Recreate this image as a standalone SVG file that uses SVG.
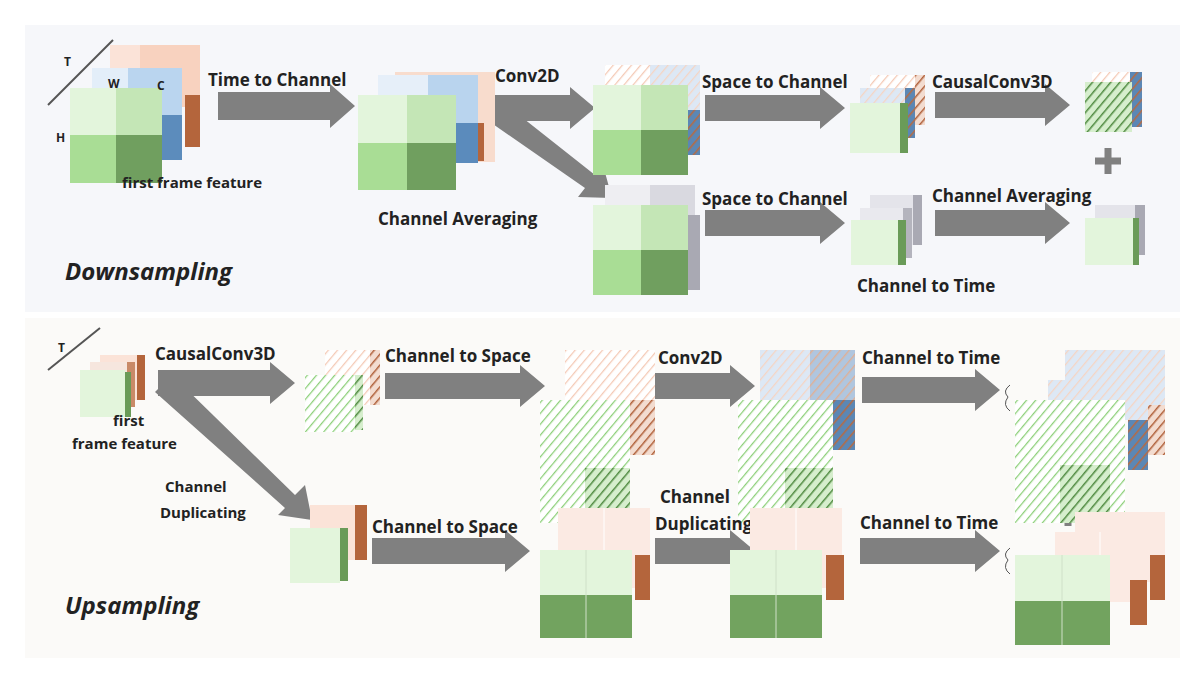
<svg xmlns="http://www.w3.org/2000/svg" width="1200" height="679" viewBox="0 0 1200 679">
<defs>
<style>
text{font-family:"Open Sans","Liberation Sans",sans-serif;font-weight:bold;font-size:17px;fill:#222}
.big{font-size:24px;font-style:italic}
.sm{font-size:12px}
.ar{fill:#808080}
</style>
<pattern id="hg" width="7" height="7" patternUnits="userSpaceOnUse" patternTransform="rotate(40)"><rect width="7" height="7" fill="#fff"/><line x1="0" y1="0" x2="0" y2="7" stroke="#8ccf78" stroke-width="2.5"/></pattern>
<pattern id="hgd" width="7" height="7" patternUnits="userSpaceOnUse" patternTransform="rotate(40)"><rect width="7" height="7" fill="#d6eecd"/><line x1="0" y1="0" x2="0" y2="7" stroke="#4f8a40" stroke-width="3"/></pattern>
<pattern id="ho" width="7" height="7" patternUnits="userSpaceOnUse" patternTransform="rotate(40)"><rect width="7" height="7" fill="#fff"/><line x1="0" y1="0" x2="0" y2="7" stroke="#f4c9b5" stroke-width="2.5"/></pattern>
<pattern id="hod" width="7" height="7" patternUnits="userSpaceOnUse" patternTransform="rotate(40)"><rect width="7" height="7" fill="#f3dcd0"/><line x1="0" y1="0" x2="0" y2="7" stroke="#b0603a" stroke-width="3"/></pattern>
<pattern id="hb" width="7" height="7" patternUnits="userSpaceOnUse" patternTransform="rotate(40)"><rect width="7" height="7" fill="#dde8f5"/><line x1="0" y1="0" x2="0" y2="7" stroke="#f6d4c2" stroke-width="2.5"/></pattern>
<pattern id="hbd" width="7" height="7" patternUnits="userSpaceOnUse" patternTransform="rotate(40)"><rect width="7" height="7" fill="#5b87b5"/><line x1="0" y1="0" x2="0" y2="7" stroke="#b86a40" stroke-width="3"/></pattern>
</defs>
<rect width="1200" height="679" fill="#fff"/>
<rect x="25" y="25" width="1155" height="287" fill="#f6f7fa"/>
<rect x="25" y="318" width="1155" height="340" fill="#fbfaf8"/>

<g id="connectors">
<polygon class="ar" points="218,92 330,92 330,84 355,106 330,128 330,120 218,120"/>
<polygon class="ar" points="495,95 570,95 570,87 595,108 570,129 570,121 495,121"/>
<polygon class="ar" points="490,122 505,104 595,175 603,165 612,198 578,197 585,188"/>
<polygon class="ar" points="705,95 820,95 820,87 845,108 820,129 820,121 705,121"/>
<polygon class="ar" points="935,92 1045,92 1045,84 1070,105 1045,126 1045,118 935,118"/>
<polygon class="ar" points="705,210 820,210 820,202 845,223 820,244 820,236 705,236"/>
<polygon class="ar" points="935,210 1045,210 1045,202 1070,223 1045,244 1045,236 935,236"/>
<polygon class="ar" points="158,370 270,370 270,362 295,383 270,404 270,396 158,396"/>
<polygon class="ar" points="155,392 172,375 295,495 305,485 312,520 278,515 285,508"/>
<polygon class="ar" points="385,373 520,373 520,365 545,386 520,407 520,399 385,399"/>
<polygon class="ar" points="655,373 730,373 730,365 755,386 730,407 730,399 655,399"/>
<polygon class="ar" points="862,377 975,377 975,369 1000,390 975,411 975,403 862,403"/>
<polygon class="ar" points="372,538 505,538 505,530 530,551 505,572 505,564 372,564"/>
<polygon class="ar" points="655,538 730,538 730,530 755,551 730,572 730,564 655,564"/>
<polygon class="ar" points="860,538 975,538 975,530 1000,551 975,572 975,564 860,564"/>
<line x1="48" y1="105" x2="113" y2="40" stroke="#555" stroke-width="2"/>
<line x1="48" y1="370" x2="100" y2="328" stroke="#555" stroke-width="2"/>
<path d="M1108,148 v26 M1095,161 h26" stroke="#808080" stroke-width="7"/>
<path d="M1068,498 v28 M1054,512 h28" stroke="#808080" stroke-width="7"/>
</g>

<g id="n1">
<rect x="110" y="45" width="90" height="62" fill="#fbe3d8"/><rect x="140" y="45" width="60" height="62" fill="#f8d2bf"/>
<rect x="185" y="95" width="15" height="52" fill="#b4653c"/>
<rect x="92" y="68" width="52" height="62" fill="#e3eef9"/><rect x="128" y="68" width="54" height="62" fill="#bad5ef"/>
<rect x="160" y="115" width="22" height="45" fill="#5c8cbc"/>
<rect x="70" y="88" width="46" height="47" fill="#e3f5dc"/><rect x="116" y="88" width="46" height="47" fill="#c4e6b6"/>
<rect x="70" y="135" width="46" height="48" fill="#a9dd95"/><rect x="116" y="135" width="46" height="48" fill="#709f5f"/>
<text class="sm" x="64" y="66">T</text><text class="sm" x="108" y="88">W</text><text class="sm" x="157" y="90">C</text><text class="sm" x="56" y="142">H</text>
<text x="122" y="188" style="font-size:15px">first frame feature</text>
</g>
<text x="208" y="86">Time to Channel</text>

<g id="n2">
<rect x="395" y="72" width="100" height="90" fill="#f8dccd"/>
<rect x="378" y="75" width="100" height="62" fill="#e6eff9"/><rect x="428" y="75" width="50" height="62" fill="#b9d4ee"/>
<rect x="456" y="123" width="22" height="40" fill="#5b8bbc"/><rect x="478" y="123" width="6" height="38" fill="#b4653c"/>
<rect x="358" y="95" width="49" height="48" fill="#e3f5dc"/><rect x="407" y="95" width="49" height="48" fill="#c4e6b6"/>
<rect x="358" y="143" width="49" height="47" fill="#a9dd95"/><rect x="407" y="143" width="49" height="47" fill="#709f5f"/>
<text x="378" y="225">Channel Averaging</text>
</g>
<text x="495" y="82">Conv2D</text>

<g id="n3">
<rect x="605" y="65" width="95" height="90" fill="url(#ho)"/><rect x="650" y="65" width="50" height="90" fill="url(#hb)"/>
<rect x="688" y="110" width="12" height="45" fill="url(#hbd)"/>
<rect x="593" y="85" width="48" height="45" fill="#e3f5dc"/><rect x="641" y="85" width="47" height="45" fill="#c4e6b6"/>
<rect x="593" y="130" width="48" height="45" fill="#a9dd95"/><rect x="641" y="130" width="47" height="45" fill="#709f5f"/>
</g>
<text x="702" y="88">Space to Channel</text>

<g id="n4">
<rect x="870" y="75" width="55" height="50" fill="url(#ho)"/><rect x="915" y="75" width="10" height="50" fill="url(#hod)"/>
<rect x="860" y="88" width="55" height="50" fill="url(#hb)"/><rect x="905" y="88" width="10" height="50" fill="url(#hbd)"/>
<rect x="850" y="103" width="50" height="50" fill="#e3f5dc"/><rect x="900" y="103" width="8" height="50" fill="#6a9b58"/>
</g>
<text x="932" y="88">CausalConv3D</text>

<g id="n5">
<rect x="1092" y="72" width="50" height="12" fill="url(#ho)"/>
<rect x="1130" y="72" width="12" height="55" fill="url(#hbd)"/>
<rect x="1085" y="82" width="47" height="50" fill="url(#hgd)"/>
</g>

<g id="n6">
<rect x="605" y="185" width="90" height="90" fill="#eeeef2"/><rect x="650" y="185" width="45" height="60" fill="#d9d9e0"/>
<rect x="688" y="215" width="12" height="75" fill="#a9a9b3"/>
<rect x="593" y="205" width="48" height="45" fill="#e3f5dc"/><rect x="641" y="205" width="47" height="45" fill="#c4e6b6"/>
<rect x="593" y="250" width="48" height="45" fill="#a9dd95"/><rect x="641" y="250" width="47" height="45" fill="#709f5f"/>
</g>
<text x="702" y="205">Space to Channel</text>

<g id="n7">
<rect x="870" y="195" width="50" height="50" fill="#e4e4ea"/><rect x="913" y="195" width="9" height="50" fill="#a9a9b3"/>
<rect x="860" y="208" width="50" height="50" fill="#e9e9ee"/><rect x="903" y="208" width="9" height="50" fill="#b4b4bd"/>
<rect x="851" y="220" width="47" height="45" fill="#e3f5dc"/><rect x="898" y="220" width="8" height="45" fill="#6a9b58"/>
<text x="857" y="292">Channel to Time</text>
</g>
<text x="932" y="202">Channel Averaging</text>

<g id="n8">
<rect x="1095" y="205" width="50" height="50" fill="#e4e4ea"/><rect x="1135" y="205" width="10" height="50" fill="#a9a9b3"/>
<rect x="1085" y="218" width="48" height="47" fill="#e3f5dc"/><rect x="1133" y="218" width="6" height="47" fill="#6a9b58"/>
</g>
<text class="big" x="65" y="280">Downsampling</text>

<g id="n9">
<rect x="100" y="355" width="45" height="45" fill="#fbe3d8"/><rect x="137" y="355" width="8" height="45" fill="#b4653c"/>
<rect x="90" y="362" width="45" height="45" fill="#f6e6de"/><rect x="127" y="362" width="8" height="45" fill="#c98a68"/>
<rect x="80" y="370" width="45" height="47" fill="#e3f5dc"/><rect x="125" y="372" width="6" height="45" fill="#6a9b58"/>
<text class="sm" x="58" y="352">T</text>
<text x="113" y="426" style="font-size:15px">first</text>
<text x="72" y="449" style="font-size:15px">frame feature</text>
</g>
<text x="155" y="360">CausalConv3D</text>
<text x="165" y="492" style="font-size:15px">Channel</text>
<text x="160" y="518" style="font-size:15px">Duplicating</text>

<g id="n10">
<rect x="325" y="350" width="55" height="55" fill="url(#ho)"/><rect x="370" y="350" width="10" height="55" fill="url(#hod)"/>
<rect x="305" y="375" width="50" height="57" fill="url(#hg)"/><rect x="355" y="375" width="8" height="55" fill="url(#hgd)"/>
</g>
<text x="385" y="362">Channel to Space</text>

<g id="n11">
<rect x="565" y="350" width="90" height="75" fill="url(#ho)"/>
<rect x="628" y="400" width="27" height="55" fill="url(#hod)"/>
<rect x="540" y="400" width="90" height="68" fill="url(#hg)"/>
<rect x="540" y="468" width="90" height="55" fill="url(#hg)"/><rect x="585" y="468" width="45" height="55" fill="url(#hgd)"/>
</g>
<text x="658" y="364">Conv2D</text>

<g id="n12">
<rect x="760" y="350" width="95" height="60" fill="url(#hb)"/><rect x="810" y="350" width="45" height="60" fill="url(#hbd)" opacity="0.35"/>
<rect x="833" y="400" width="22" height="50" fill="url(#hbd)"/>
<rect x="738" y="400" width="95" height="68" fill="url(#hg)"/>
<rect x="738" y="468" width="95" height="55" fill="url(#hg)"/><rect x="785" y="468" width="48" height="55" fill="url(#hgd)"/>
</g>
<text x="862" y="364">Channel to Time</text>
<path d="M1010,385 q-8,6 -2,12 q-6,8 2,14" fill="none" stroke="#555"/>

<g id="n13">
<rect x="1065" y="350" width="100" height="55" fill="url(#hb)"/>
<rect x="1145" y="405" width="20" height="50" fill="url(#hod)"/>
<rect x="1048" y="380" width="100" height="40" fill="url(#hb)"/>
<rect x="1128" y="420" width="20" height="50" fill="url(#hbd)"/>
<rect x="1015" y="400" width="110" height="65" fill="url(#hg)"/>
<rect x="1015" y="465" width="110" height="58" fill="url(#hg)"/><rect x="1060" y="465" width="50" height="58" fill="url(#hgd)"/>
</g>

<g id="n14">
<rect x="310" y="505" width="55" height="55" fill="#fbe3d8"/><rect x="355" y="505" width="12" height="55" fill="#b4653c"/>
<rect x="290" y="528" width="50" height="55" fill="#e3f5dc"/><rect x="340" y="528" width="8" height="53" fill="#6a9b58"/>
</g>
<text x="372" y="533">Channel to Space</text>

<g id="n15">
<rect x="558" y="508" width="92" height="80" fill="#fbeae3"/><line x1="604" y1="508" x2="604" y2="588" stroke="#fff"/>
<rect x="635" y="555" width="15" height="45" fill="#b4653c"/>
<rect x="540" y="550" width="92" height="45" fill="#e3f5dc"/>
<rect x="540" y="595" width="92" height="43" fill="#72a35f"/>
<line x1="586" y1="550" x2="586" y2="638" stroke="#cfe0c8"/>
</g>
<text x="660" y="503">Channel</text>
<text x="655" y="530">Duplicating</text>

<g id="n16">
<rect x="750" y="508" width="92" height="80" fill="#fbeae3"/><line x1="796" y1="508" x2="796" y2="588" stroke="#fff"/>
<rect x="826" y="555" width="18" height="45" fill="#b4653c"/>
<rect x="730" y="550" width="92" height="45" fill="#e3f5dc"/>
<rect x="730" y="595" width="92" height="43" fill="#72a35f"/>
<line x1="776" y1="550" x2="776" y2="638" stroke="#cfe0c8"/>
</g>
<text x="860" y="529">Channel to Time</text>
<path d="M1010,548 q-8,6 -2,12 q-6,8 2,14" fill="none" stroke="#555"/>

<g id="n17">
<rect x="1075" y="512" width="90" height="70" fill="#fbeae3"/>
<rect x="1150" y="555" width="15" height="45" fill="#b4653c"/>
<rect x="1055" y="532" width="92" height="70" fill="#fbeae3"/><line x1="1100" y1="532" x2="1100" y2="600" stroke="#fff"/>
<rect x="1130" y="580" width="17" height="45" fill="#b4653c"/>
<rect x="1015" y="555" width="95" height="46" fill="#e3f5dc"/>
<rect x="1015" y="601" width="95" height="44" fill="#72a35f"/>
<line x1="1062" y1="555" x2="1062" y2="645" stroke="#cfe0c8"/>
</g>
<text class="big" x="65" y="614">Upsampling</text>
</svg>
